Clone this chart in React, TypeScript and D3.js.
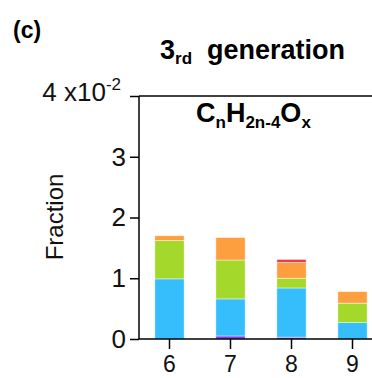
import React, { useRef, useEffect } from "react";
import * as d3 from "d3";

const categories = ["6", "7", "8", "9"];
const seriesNames = ["purple", "blue", "green", "orange", "red"];
const purpleVals = [0, 0.05, 0.03, 0];
const blueVals = [0.99, 0.61, 0.81, 0.27];
const greenVals = [0.63, 0.64, 0.16, 0.32];
const orangeVals = [0.08, 0.37, 0.26, 0.19];
const redVals = [0, 0, 0.05, 0];
const seriesColors = ["#7a45e6", "#35bdfc", "#a4d92b", "#fe9f3f", "#ef3a4a"];
const yTicks = [0, 1, 2, 3, 4];

export default function App() {
  const svgRef = useRef<SVGSVGElement>(null);

  useEffect(() => {
    const width = 372;
    const height = 378;
    const left = 139;
    const top = 96;
    const bottom = 339;
    const font = "'Liberation Sans', Arial, sans-serif";

    const svg = d3.select(svgRef.current);
    svg.selectAll("*").remove();
    svg.attr("width", width).attr("height", height).style("font-family", font);

    const rows = categories.map((c, i) => ({
      cat: c,
      purple: purpleVals[i],
      blue: blueVals[i],
      green: greenVals[i],
      orange: orangeVals[i],
      red: redVals[i],
    }));

    const x = d3
      .scaleBand()
      .domain(categories)
      .range([left, left + 61 * 4])
      .paddingInner(0.52)
      .paddingOuter(0.26);

    const y = d3.scaleLinear().domain([0, 4]).range([bottom, top]);

    const color = d3.scaleOrdinal<string>().domain(seriesNames).range(seriesColors);

    const stacked = d3.stack<any>().keys(seriesNames)(rows);

    svg
      .append("g")
      .selectAll("g")
      .data(stacked)
      .enter()
      .append("g")
      .attr("fill", (d) => color(d.key))
      .selectAll("rect")
      .data((d) => d.filter((s) => s[1] - s[0] > 0))
      .enter()
      .append("rect")
      .attr("x", (d) => x(d.data.cat)!)
      .attr("width", x.bandwidth())
      .attr("y", (d) => y(d[1]))
      .attr("height", (d) => y(d[0]) - y(d[1]))
      .attr("stroke", "#ffffff")
      .attr("stroke-opacity", 0.55)
      .attr("stroke-width", 0.8);

    // top frame line
    svg
      .append("line")
      .attr("x1", left)
      .attr("x2", width)
      .attr("y1", top)
      .attr("y2", top)
      .attr("stroke", "#000")
      .attr("stroke-width", 1.5);

    const yAxis = svg
      .append("g")
      .attr("transform", `translate(${left},0)`)
      .call(
        d3
          .axisLeft(y)
          .tickValues(yTicks)
          .tickSize(9)
          .tickPadding(4)
          .tickFormat((d) => (d === 4 ? "" : String(d)))
      );
    yAxis.select(".domain").attr("stroke-width", 1.5).attr("d", `M0,${top}V${bottom}`);
    yAxis.selectAll(".tick line").attr("stroke-width", 1.5);
    yAxis
      .selectAll(".tick text")
      .attr("font-size", 26)
      .attr("font-family", font)
      .attr("fill", "#111");

    const topLabel = svg
      .append("text")
      .attr("x", 121)
      .attr("y", y(4) + 5)
      .attr("text-anchor", "end")
      .attr("font-size", 26)
      .attr("fill", "#111");
    topLabel.append("tspan").text("4 x10");
    topLabel.append("tspan").attr("font-size", 17).attr("dy", -11).text("-2");

    const xAxis = svg
      .append("g")
      .attr("transform", `translate(0,${bottom})`)
      .call(d3.axisBottom(x).tickSize(10).tickPadding(7));
    xAxis.select(".domain").attr("stroke-width", 1.5).attr("d", `M${left},0H${width}`);
    xAxis.selectAll(".tick line").attr("stroke-width", 1.5);
    xAxis
      .selectAll(".tick text")
      .attr("font-size", 23)
      .attr("font-family", font)
      .attr("fill", "#111");

    svg
      .append("text")
      .attr("transform", `translate(63,217) rotate(-90)`)
      .attr("text-anchor", "middle")
      .attr("font-size", 24)
      .attr("fill", "#111")
      .text("Fraction");

    svg
      .append("text")
      .attr("x", 13)
      .attr("y", 38)
      .attr("font-size", 23)
      .attr("font-weight", "bold")
      .text("(c)");

    const title = svg
      .append("text")
      .attr("x", 160)
      .attr("y", 59)
      .attr("font-size", 27)
      .attr("font-weight", "bold");
    title.append("tspan").text("3");
    title.append("tspan").attr("font-size", 17).attr("dy", 5).text("rd");
    title.append("tspan").attr("dy", -5).text("\u00a0 generation");

    const formula = svg
      .append("text")
      .attr("x", 196)
      .attr("y", 122)
      .attr("font-size", 27)
      .attr("font-weight", "bold");
    const parts: [string, boolean][] = [
      ["C", false],
      ["n", true],
      ["H", false],
      ["2n-4", true],
      ["O", false],
      ["x", true],
    ];
    let sub = false;
    parts.forEach(([t, isSub]) => {
      const ts = formula.append("tspan").text(t);
      if (isSub) ts.attr("font-size", 17);
      if (isSub !== sub) ts.attr("dy", isSub ? 6 : -6);
      sub = isSub;
    });
  }, []);

  return (
    <svg
      ref={svgRef}
      style={{ position: "absolute", left: 0, top: 0, display: "block" }}
    ></svg>
  );
}
